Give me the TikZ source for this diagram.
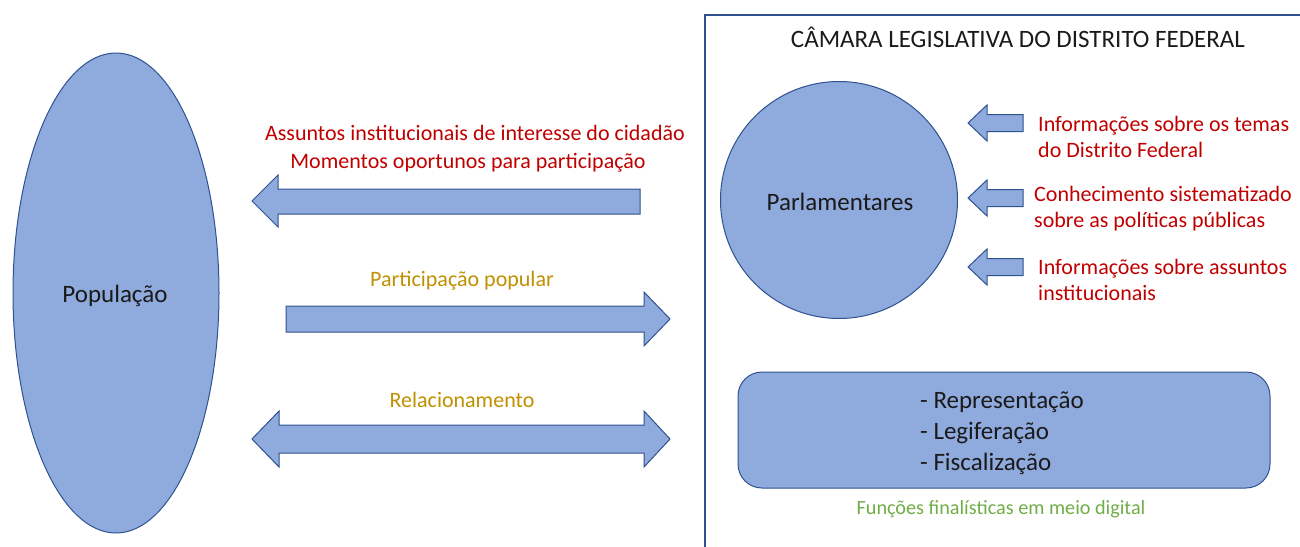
\documentclass[tikz,border=0pt]{standalone}
\usepackage{fontspec}
\setmainfont{Carlito}
\usetikzlibrary{shapes.geometric}
\definecolor{fillblue}{HTML}{8FAADC}
\definecolor{edgeblue}{HTML}{2F528F}
\definecolor{txtred}{HTML}{C00000}
\definecolor{txtgold}{HTML}{BF9000}
\definecolor{txtgreen}{HTML}{70AD47}
\definecolor{txtdark}{HTML}{1A1A1A}
\begin{document}
\begin{tikzpicture}[x=1pt,y=-1pt,
  shapeblue/.style={fill=fillblue,draw=edgeblue,line width=1pt},
  blockarrow/.style={fill=fillblue,draw=edgeblue,line width=1pt,line join=miter},
  lbl/.style={font=\fontsize{22}{26}\selectfont,inner sep=0pt,text=txtdark},
  biglbl/.style={lbl,font=\fontsize{25}{30}\selectfont},
  redlbl/.style={lbl,text=txtred},
  goldlbl/.style={lbl,text=txtgold},
  greenlbl/.style={lbl,text=txtgreen,font=\fontsize{20.2}{24}\selectfont}]
\useasboundingbox (0,0) rectangle (1300,546);
% frame
\draw[draw=edgeblue,line width=1.2pt] (705,15) rectangle (1320,570);
\node[biglbl] (title) at (1018,37) {CÂMARA LEGISLATIVA DO DISTRITO FEDERAL};
% population
\node[shapeblue,ellipse,minimum width=206,minimum height=480,inner sep=0pt] (pop) at (116,293) {};
\node[biglbl] at (115,296) {População};
% parlamentares
\node[shapeblue,circle,minimum size=237,inner sep=0pt] (parl) at (839,200) {};
\node[biglbl] at (840,202) {Parlamentares};
% big arrows
\draw[blockarrow] (252,201)--(278,175)--(278,189)--(640,189)--(640,214)--(278,214)--(278,227)--cycle;
\draw[blockarrow] (670,319)--(644,292)--(644,306)--(286,306)--(286,332)--(644,332)--(644,346)--cycle;
\draw[blockarrow] (252,439)--(279,411)--(279,425)--(644,425)--(644,411)--(670,439)--(644,467)--(644,453)--(279,453)--(279,467)--cycle;
\node[redlbl] (l1) at (475,133) {Assuntos institucionais de interesse do cidadão};
\node[redlbl] (l2) at (468,163) {Momentos oportunos para participação};
\node[goldlbl] (l3) at (462,281) {Participação popular};
\node[goldlbl] (l4) at (462,400) {Relacionamento};
% small arrows
\foreach \yy in {123,198,267}{
  \draw[blockarrow] (968,\yy)--(987,\yy-18)--(987,\yy-8.5)--(1023,\yy-8.5)--(1023,\yy+8.5)--(987,\yy+8.5)--(987,\yy+18)--cycle;
}
\node[redlbl,anchor=west,align=left] (r1) at (1038,137) {Informações sobre os temas\\do Distrito Federal};
\node[redlbl,anchor=west,align=left] (r2) at (1034,209) {Conhecimento sistematizado\\sobre as políticas públicas};
\node[redlbl,anchor=west,align=left] (r3) at (1038,280) {Informações sobre assuntos\\institucionais};
% functions box
\node[shapeblue,rounded corners=24pt,minimum width=532,minimum height=116,inner sep=0pt] (func) at (1004,430) {};
\node[lbl,anchor=west,align=left,font=\fontsize{25}{31}\selectfont] (ftext) at (920,433) {- Representação\\- Legiferação\\- Fiscalização};
\node[greenlbl] (fcap) at (1001,509) {Funções finalísticas em meio digital};
\end{tikzpicture}
\end{document}
